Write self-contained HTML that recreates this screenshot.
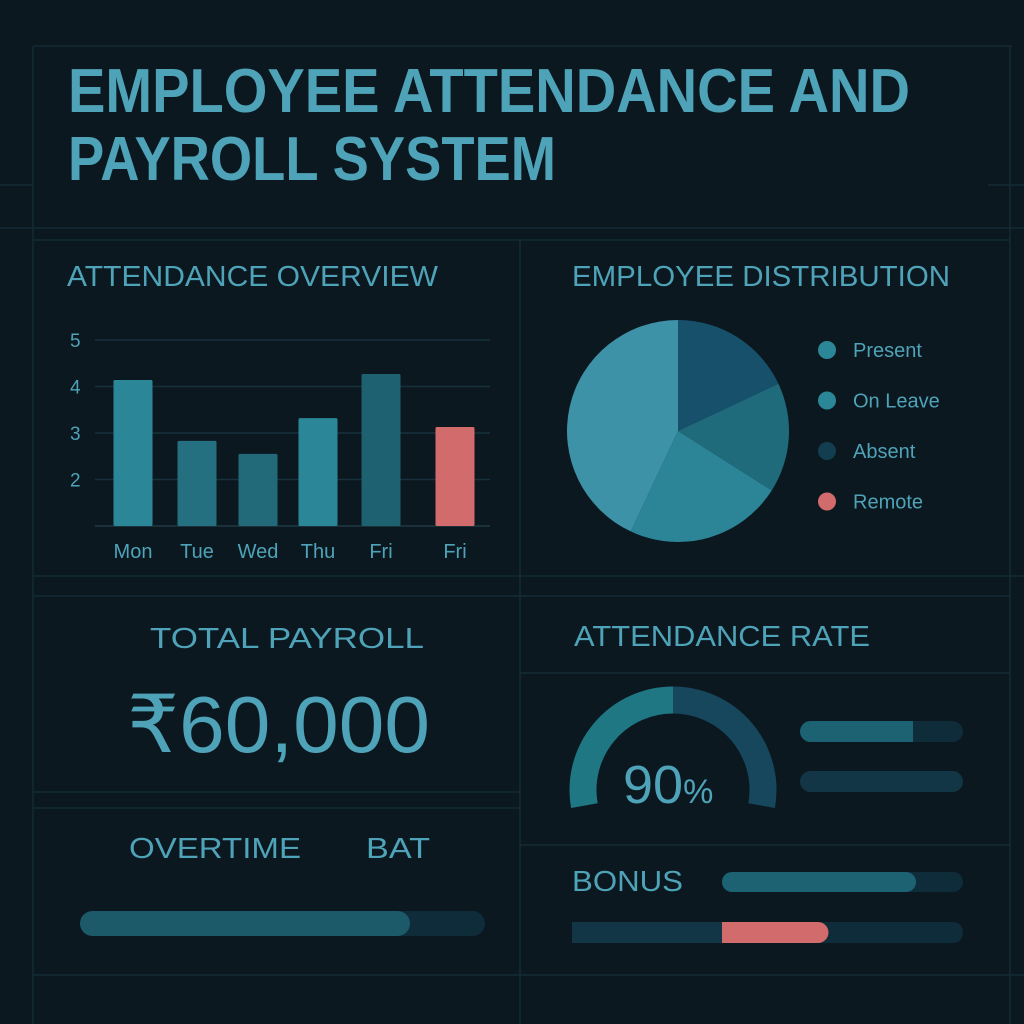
<!DOCTYPE html>
<html><head><meta charset="utf-8"><style>
html,body{margin:0;padding:0;background:#0b1820;}
svg{display:block;font-family:"Liberation Sans",sans-serif;}
</style></head><body>
<svg width="1024" height="1024" viewBox="0 0 1024 1024">
<rect width="1024" height="1024" fill="#0b1820"/>
<g id="grid" stroke="#152a35" stroke-width="1.5" fill="none">
<path d="M33 46H1012M0 228H1024M33 240H1010M33 576H1024M33 596H1010M520 673H1010M33 808H520M33 975H1024M33 46V1024M520 240V1024M1010 46V1024M0 185H33M988 185H1024M33 792H520M520 845H1010"/>
</g>
<g fill="#4fa3b8" font-weight="bold">
<text x="68" y="112" font-size="62" textLength="842" lengthAdjust="spacingAndGlyphs">EMPLOYEE ATTENDANCE AND</text>
<text x="68" y="180" font-size="62" textLength="488" lengthAdjust="spacingAndGlyphs">PAYROLL SYSTEM</text>
</g>
<g fill="#4fa3b8" font-size="29">
<text x="67" y="286" textLength="371" lengthAdjust="spacingAndGlyphs">ATTENDANCE OVERVIEW</text>
<text x="572" y="286" textLength="378" lengthAdjust="spacingAndGlyphs">EMPLOYEE DISTRIBUTION</text>
<text x="150" y="648" textLength="274" lengthAdjust="spacingAndGlyphs">TOTAL PAYROLL</text>
<text x="574" y="646" textLength="296" lengthAdjust="spacingAndGlyphs">ATTENDANCE RATE</text>
<text x="129" y="858" textLength="172" lengthAdjust="spacingAndGlyphs">OVERTIME</text>
<text x="366" y="858" textLength="64" lengthAdjust="spacingAndGlyphs">BAT</text>
<text x="572" y="891" textLength="111" lengthAdjust="spacingAndGlyphs">BONUS</text>
</g>
<text x="127" y="752" font-size="80" fill="#4fa3b8" textLength="303" lengthAdjust="spacingAndGlyphs">₹60,000</text>
<g id="bars"></g>
<g id="pie"></g>
<g id="legend"></g>
<g id="gauge"></g>
<text x="623" y="803" font-size="54" fill="#4fa3b8">90<tspan font-size="34">%</tspan></text>
<g>
<rect x="80" y="911" width="405" height="25" rx="12.5" fill="#0f2c3a"/>
<rect x="80" y="911" width="330" height="25" rx="12.5" fill="#1c5a6a"/>
<rect x="800" y="721" width="163" height="21" rx="10.5" fill="#0f2c3a"/>
<path d="M810.5 721H913V742H810.5A10.5 10.5 0 0 1 810.5 721Z" fill="#1c6272"/>
<rect x="800" y="771" width="163" height="21" rx="10.5" fill="#133646"/>
<rect x="722" y="872" width="241" height="20" rx="10" fill="#0f2c3a"/>
<rect x="722" y="872" width="194" height="20" rx="10" fill="#1c6272"/>
<rect x="572" y="922" width="391" height="21" rx="10" fill="#0f2c3a"/>
<rect x="572" y="922" width="150" height="21" fill="#133646"/>
<path d="M722 922H818A10.5 10.5 0 0 1 818 943H722Z" fill="#d26b6b"/>
</g>
</svg>
<script>
const ns='http://www.w3.org/2000/svg';
function mk(tag,attrs,parent){const e=document.createElementNS(ns,tag);for(const k in attrs)e.setAttribute(k,attrs[k]);parent.appendChild(e);return e;}
// Bar chart data
const barDays=['Mon','Tue','Wed','Thu','Fri','Fri'];
const barValues=[4.14,2.83,2.55,3.32,4.27,3.13];
const barColors=['#2b8797','#246f80','#226a7a','#2b8797','#1e6170','#d26b6b'];
const yTicks=[2,3,4,5];
// Pie data
const pieLabels=['Absent','On Leave','Present','Remote'];
const pieValues=[18,16,23,43];
const pieColors=['#16506a','#1f6b7b','#2c8597','#3e92a7'];
const legendLabels=['Present','On Leave','Absent','Remote'];
const legendColors=['#2b8797','#2b8797','#133e50','#d26b6b'];
// Gauge data
const gaugeValue=90;

const bg=document.getElementById('bars');
const yScale=v=>526-(v-1)*46.5;
const xCenters=[133,197,258,318,381,455];
const bw=39;
yTicks.forEach(t=>{
  const l=mk('line',{x1:95,x2:490,y1:yScale(t),y2:yScale(t),stroke:'#17303c','stroke-width':1.5},bg);
  
  
  const tx=mk('text',{x:70,y:yScale(t)+7,'font-size':19,fill:'#4fa3b8'},bg);
  tx.textContent=t;
  
  
});
const base=mk('line',{x1:95,x2:490,y1:526,y2:526,stroke:'#1f3844','stroke-width':1.5},bg);


barValues.forEach((v,i)=>{
  const r=mk('rect',{x:xCenters[i]-bw/2,y:yScale(v),width:bw,height:526-yScale(v),fill:barColors[i],rx:1.5},bg);
  
  
  const tx=mk('text',{x:xCenters[i],y:558,'font-size':20,fill:'#4fa3b8','text-anchor':'middle'},bg);
  tx.textContent=barDays[i];
  
  
});
// Pie
const pg=document.getElementById('pie');
const cx=678,cy=431,R=111;
const tot=pieValues.reduce((a,b)=>a+b,0);
let a0=-Math.PI/2;
pieValues.forEach((v,i)=>{
  const a1=a0+v/tot*2*Math.PI;
  const large=(a1-a0)>Math.PI?1:0;
  const d=`M${cx} ${cy}L${cx+R*Math.cos(a0)} ${cy+R*Math.sin(a0)}A${R} ${R} 0 ${large} 1 ${cx+R*Math.cos(a1)} ${cy+R*Math.sin(a1)}Z`;
  const p=mk('path',{d:d,fill:pieColors[i]},pg);
  
  
  a0=a1;
});
// Legend
const lg=document.getElementById('legend');
legendLabels.forEach((l,i)=>{
  const y=350+i*50.5;
  const c=mk('circle',{cx:827,cy:y,r:9,fill:legendColors[i]},lg);
  
  
  const t=mk('text',{x:853,y:y+7,'font-size':20,fill:'#4fa3b8'},lg);
  t.textContent=l;
  
  
});
// Gauge
const gg=document.getElementById('gauge');
const gx=673,gy=790,gr=90;
function arc(d0,d1){const r0=d0*Math.PI/180,r1=d1*Math.PI/180;return `M${gx+gr*Math.cos(r0)} ${gy+gr*Math.sin(r0)}A${gr} ${gr} 0 0 1 ${gx+gr*Math.cos(r1)} ${gy+gr*Math.sin(r1)}`;}
const startA=170,endA=370;
const splitA=270;
const bgArc=mk('path',{d:arc(splitA,endA),stroke:'#16475c','stroke-width':27,fill:'none'},gg);


const fg=mk('path',{d:arc(startA,splitA),stroke:'#1f7783','stroke-width':27,fill:'none'},gg);


</script>
</body></html>
